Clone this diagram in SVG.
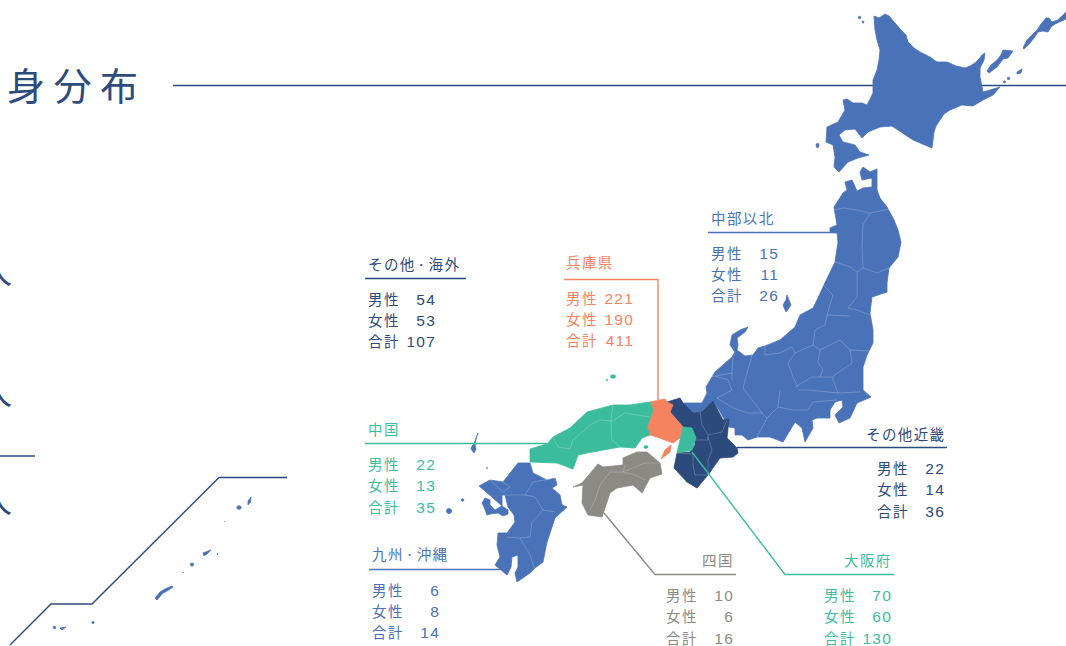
<svg xmlns="http://www.w3.org/2000/svg" width="1066" height="646" viewBox="0 0 1066 646">
<style>
text{font-family:"Noto Sans CJK JP","Noto Sans",sans-serif;font-weight:400;font-size:14.5px;letter-spacing:1.4px;word-spacing:-3px}
.num{font-family:"Liberation Sans","Noto Sans",sans-serif;font-size:15.5px;letter-spacing:1.2px;text-anchor:end;font-weight:400}
.navy{fill:#2d4a7c}.blue{fill:#4a72b8}.teal{fill:#3bbd9d}.sal{fill:#f5835f}.gray{fill:#8c8a85}
.ln{fill:none;stroke-width:1.4}
path.blue,.blue path,.blue circle,.blue ellipse{stroke:#4a72b8;stroke-width:.8;stroke-linejoin:round}
path.navy{stroke:#2d4a7c;stroke-width:.8;stroke-linejoin:round}
path.teal{stroke:#3bbd9d;stroke-width:.8;stroke-linejoin:round}
path.sal{stroke:#f5835f;stroke-width:.8;stroke-linejoin:round}
path.gray{stroke:#8c8a85;stroke-width:.8;stroke-linejoin:round}
#map .b{fill:none;stroke:#fff;stroke-opacity:.3;stroke-width:.7}
</style>
<line x1="173" y1="85.5" x2="1066" y2="85.5" class="ln" stroke="#2d4a7c"/>
<g id="title"><text x="7" y="100" class="navy" style="font-size:38px;letter-spacing:8.500px;font-family:'Liberation Serif','Noto Sans CJK JP',serif">身分布</text></g>
<g id="left-fragments">
<text x="-22" y="284" class="navy" style="font-size:34px">人</text>
<text x="-22" y="405" class="navy" style="font-size:34px">人</text>
<text x="-22" y="513" class="navy" style="font-size:34px">人</text>
<line x1="0" y1="456" x2="35" y2="456" class="ln" stroke="#2d4a7c"/>
</g>
<g id="okinawa-frame"><path d="M287 477.500H219L92 604H51L10 645" class="ln" stroke="#2d4a7c"/></g>
<g id="map">
<g id="hokkaido" class="blue">
<path d="M874 16L879 18L885 14L889 16L895 23L901 30L906 35L908 42L914 48L920 52L930 57L937 62L947 62L956 66L965 68L970 66L975 63L979 59L982 55L985 53L984 60L980 68L980 77L983 92L990 90L1000 87L993 95L983 100L973 106L962 105L950 110L944 114L940 120L936 126L934 132L932 148L913 140L892 126L880 127L868 132L862 138L855 129L845 130L839 135L843 142L855 145L860 152L869 155L858 158L848 162L839 172L834 167L835 157L833 145L826 142L827 127L838 122L845 110L843 100L847 99L853 103L862 103L867 105L873 93L873 80L877 70L879 60L880 50L877 40L875 30Z"/>
<path d="M987 71L991 65L997 60L1001 55L1003 50L1013 51L1008 58L1003 59L997 67L989 73Z"/>
<path d="M1023 48L1027 40L1037 30L1041 24L1046 18L1049 18L1052 22L1058 20L1066 12V19L1055 24L1051 27L1048 32L1043 31L1038 32L1034 38L1030 43L1024 49Z"/>
<path d="M1017 72L1022 69L1021 73L1017 74Z"/>
<circle cx="1008.500" cy="78.500" r="1.200"/><circle cx="1004.500" cy="82" r="1"/>
<circle cx="859.500" cy="17.500" r="1.200"/><circle cx="863" cy="22" r="1"/>
<ellipse cx="817.500" cy="145.500" rx="1.400" ry="2.200"/>
</g>
<g id="chubu-north">
<path class="blue" d="M845 182L852 180L857 191L863 188L872 187L872 178L862 180L860 172L863 167L870 172L877 169L877 190L880 198L887 207L894 220L898 230L901 242L898 257L889 268L887 283L887 292L872 297L870 313L873 330L873 343L867 355L863 367L863 390L871 397L857 403L850 418L839 423L835 415L843 407L842 400L835 402L830 410L830 418L817 418L812 420L813 428L805 442L802 428L795 422L783 442L770 437L757 437L748 440L742 435L735 435L735 428L729 427L723 417L719 410L713 401L702 412L693 413L683 403L702 403L707 393L706 387L715 372L732 357L735 352L730 345L732 335L740 330L748 327L745 332L737 338L738 345L737 350L745 356L753 355L758 348L765 346L780 340L795 327L800 315L813 308L818 298L823 287L835 262L838 242L837 233L830 232L830 228L837 225L834 207L843 193L847 190Z"/>
<path class="blue" d="M787 295L791 305L786 312L783 305L786 300Z"/>
<path class="b" d="M835 210L843 208L857 210L870 213L890 209M870 213L863 225L862 247L863 268L877 273L889 268M835 262L850 267L857 272L863 268M857 272L857 297L848 308L857 310L870 315M823 285L833 295L827 315L850 316M827 315L825 325L815 330L813 345L820 350L840 340L850 350L870 351M765 346L765 355L780 353L792 347L795 353L813 345M820 350L818 362L823 370L820 377M850 350L852 363L832 377L812 377L795 387M795 353L788 363L793 377L798 387M832 377L838 393L860 392M798 390L808 390L838 393M752 355L743 388L762 413L767 418M780 390L778 407L793 410L808 410L813 402L837 400M778 407L767 418L757 437M733 357L732 373L710 377M715 376L728 380L732 390L717 398L733 408L747 413L762 413M732 373L732 380"/>
</g>
<g id="kinki-other">
<path class="navy" d="M667 402L680 398L683 403L693 413L702 412L713 401L723 420L729 419L727 438L737 448L738 453L733 457L720 458L708 475L697 488L687 482L674 468L677 453L690 452L695 445L695 437L683 427L670 412L673 405Z"/>
<path class="b" d="M700 412L702 425L708 435L722 432L727 420M708 435L708 440L696 440M708 437L712 450L708 460L708 475M677 453L693 454L693 465L695 475L708 475"/>
</g>
<g id="hyogo">
<path class="sal" d="M650 402L665 399L667 402L673 405L670 412L683 427L680 438L673 443L657 437L650 435L647 427L653 410Z"/>
<path class="sal" d="M671 445L670 452L661 459L665 450Z"/>
</g>
<g id="osaka"><path class="teal" d="M683 427L692 428L696 438L692 450L677 453L680 440Z"/></g>
<g id="chugoku">
<path class="teal" d="M530 449L547 444L553 437L570 428L587 412L613 405L630 405L650 402L653 410L647 427L650 435L642 438L635 448L620 447L587 453L578 455L573 469L557 463L530 462Z"/>
<ellipse class="teal" cx="613" cy="376.500" rx="2.800" ry="2"/><circle class="teal" cx="607" cy="380" r="1"/>
<ellipse class="teal" cx="646" cy="447" rx="2.500" ry="1.800"/>
<path class="b" d="M553 437L558 447L570 449L573 440L590 425L600 420L611 421L613 403M611 421L612 440L620 447M612 421L625 413L650 417"/>
</g>
<g id="shikoku">
<path class="gray" d="M623 458L637 452L647 452L660 463L662 474L650 478L642 493L633 485L617 488L610 493L602 517L588 515L582 503L583 485L573 487L582 483L598 464L603 467L623 465Z"/>
<path class="b" d="M625 465L623 472L645 463L660 463M623 472L610 472L600 485L595 500L590 510M623 472L635 475L645 480"/>
</g>
<g id="kyushu" class="blue">
<path d="M479 486L490 480L503 482L518 463L530 463L533 473L547 480L555 478L557 485L552 488L560 495L562 505L567 507L555 518L547 542L543 562L535 568L530 573L517 582L515 573L518 567L518 555L512 557L511 567L507 575L495 565L500 557L497 545L498 533L507 533L515 522L514 515L508 507L505 495L502 495L502 506L492 497Z"/>
<path d="M485 498L490 500L490 505L495 510L502 506L508 510L508 514L503 516L498 513L490 514L487 515L484 507L482 503Z"/>
<path d="M478 433L476 438L475 445L476 449L474 453L471 449L472 446L474 444Z"/>
<circle cx="449" cy="511" r="2.500"/><circle cx="462.500" cy="500" r="1.300"/><circle cx="487" cy="468" r=".5"/>
<path class="b" d="M490 480L503 492L510 487L503 482M510 495L525 495L533 482L555 478M525 495L535 497L543 510L555 512M543 510L532 522L530 537L520 538L507 537M520 538L530 555L535 570M505 495L510 495"/>
</g>
<g id="okinawa" class="blue">
<path d="M251 497L250.500 502L248 505L248 501Z"/>
<ellipse cx="239" cy="507.500" rx="2.200" ry="1.800"/>
<circle cx="224.500" cy="521.300" r=".2"/>
<path d="M203 553L211 550L207 554L204 556Z"/>
<circle cx="217.500" cy="554" r=".4"/>
<circle cx="192" cy="564.500" r="1.600"/>
<circle cx="183" cy="572.500" r=".3"/>
<path d="M155 598L160 592L165 589L172 586L173 587L167 591L163 593L157 600Z"/>
<circle cx="93" cy="622.500" r="1.100"/><circle cx="54.500" cy="627.500" r="1.300"/>
<path d="M60 628L66 627L62 630Z"/>
</g>
</g>
<g id="connectors">
<path class="ln" stroke="#2d4a7c" d="M365 278.500H466"/>
<path class="ln" stroke="#f5835f" d="M564 279.500H658V402"/>
<path class="ln" stroke="#4a72b8" d="M708 232.500H836"/>
<path class="ln" stroke="#3bbd9d" d="M365 443.500H547"/>
<path class="ln" stroke="#2d4a7c" d="M737 447.500H947"/>
<path class="ln" stroke="#4a72b8" d="M369 569.500H500"/>
<path class="ln" stroke="#8c8a85" d="M604 513L655 574.500H736"/>
<path class="ln" stroke="#3bbd9d" d="M692 452L785 574.500H894"/>
</g>
<g id="label-other" class="navy"><text x="368" y="270">その他 · 海外</text>
<text x="368" y="305">男性</text><text x="368" y="326">女性</text><text x="368" y="347">合計</text>
<text x="436" y="305" class="num">54</text><text x="436" y="326" class="num">53</text><text x="436" y="347" class="num">107</text></g>
<g id="label-hyogo" class="sal"><text x="566" y="268">兵庫県</text>
<text x="566" y="304">男性</text><text x="566" y="325">女性</text><text x="566" y="346">合計</text>
<text x="634" y="304" class="num">221</text><text x="634" y="325" class="num">190</text><text x="634" y="346" class="num">411</text></g>
<g id="label-chubu" class="blue"><text x="711" y="224">中部以北</text>
<text x="711" y="259">男性</text><text x="711" y="280">女性</text><text x="711" y="301">合計</text>
<text x="779" y="259" class="num">15</text><text x="779" y="280" class="num">11</text><text x="779" y="301" class="num">26</text></g>
<g id="label-chugoku" class="teal"><text x="368" y="435">中国</text>
<text x="368" y="470">男性</text><text x="368" y="491">女性</text><text x="368" y="513">合計</text>
<text x="436" y="470" class="num">22</text><text x="436" y="491" class="num">13</text><text x="436" y="513" class="num">35</text></g>
<g id="label-kinki" class="navy"><text x="866" y="440">その他近畿</text>
<text x="877" y="474">男性</text><text x="877" y="495">女性</text><text x="877" y="517">合計</text>
<text x="945" y="474" class="num">22</text><text x="945" y="495" class="num">14</text><text x="945" y="517" class="num">36</text></g>
<g id="label-kyushu" class="blue"><text x="372" y="560">九州 · 沖縄</text>
<text x="372" y="596">男性</text><text x="372" y="617">女性</text><text x="372" y="638">合計</text>
<text x="440" y="596" class="num">6</text><text x="440" y="617" class="num">8</text><text x="440" y="638" class="num">14</text></g>
<g id="label-shikoku" class="gray"><text x="702" y="566">四国</text>
<text x="666" y="601">男性</text><text x="666" y="622">女性</text><text x="666" y="644">合計</text>
<text x="734" y="601" class="num">10</text><text x="734" y="622" class="num">6</text><text x="734" y="644" class="num">16</text></g>
<g id="label-osaka" class="teal"><text x="844" y="566">大阪府</text>
<text x="824" y="601">男性</text><text x="824" y="622">女性</text><text x="824" y="644">合計</text>
<text x="892" y="601" class="num">70</text><text x="892" y="622" class="num">60</text><text x="892" y="644" class="num">130</text></g>
</svg>
